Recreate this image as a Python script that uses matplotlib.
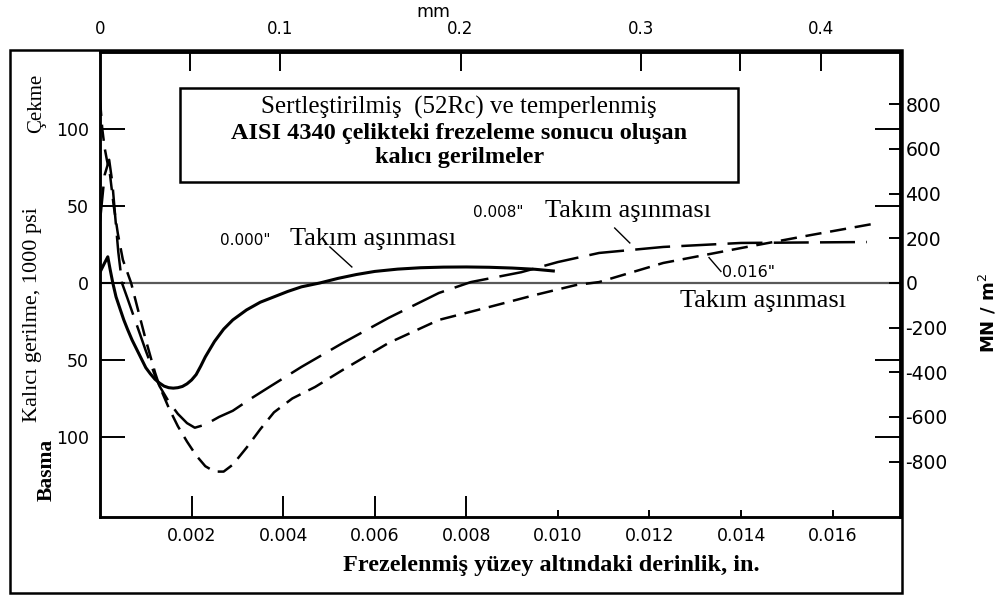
# --- IMPORT LIBRARIES ---
import matplotlib
matplotlib.use("Agg")
import matplotlib.pyplot as plt
from matplotlib.patches import Rectangle

# --- DATA (depth in inches, residual stress in 1000 psi) ---
depth_000 = [0, 0.00005, 0.0001, 0.00017, 0.00022, 0.00028, 0.00035, 0.00044, 0.00052, 0.0006,
             0.0007, 0.0008, 0.0009, 0.001, 0.0011, 0.0012, 0.0013, 0.0014, 0.0015, 0.0016,
             0.0017, 0.0018, 0.0019, 0.002, 0.0021, 0.0022, 0.0023, 0.0025, 0.0027, 0.0029,
             0.0032, 0.0035, 0.0038, 0.0041, 0.0044, 0.0048, 0.0052, 0.0056, 0.006, 0.0065,
             0.007, 0.0075, 0.008, 0.0085, 0.009, 0.0095, 0.0099]
stress_000 = [7, 10, 13, 17, 9, 0, -9, -17, -24, -30,
              -37, -43, -49, -55, -59, -62.5, -65, -67, -68, -68.3,
              -68, -67.2, -65.5, -63, -59.5, -54, -48, -38, -30, -24,
              -17.5, -12.5, -9, -5.5, -2.5, 0, 3, 5.5, 7.5, 9,
              9.9, 10.3, 10.4, 10.2, 9.7, 8.9, 7.8]

depth_008 = [0, 0.0001, 0.0002, 0.00027, 0.00033, 0.0004, 0.00048, 0.0006, 0.0008, 0.001,
             0.0012, 0.0013, 0.0015, 0.0017, 0.0019, 0.00207, 0.0023, 0.0026, 0.0029, 0.0033,
             0.0037, 0.0044, 0.0053, 0.0063, 0.0074, 0.0081, 0.0092, 0.01, 0.0109, 0.0123,
             0.014, 0.01675]
stress_008 = [40, 70, 80, 65, 44, 20, 0, -10, -27, -44,
              -60, -67, -77, -85, -91, -94, -92, -87, -83, -75,
              -67.5, -54.5, -39, -22.7, -6.5, 0.6, 7, 13.6, 19.5, 23.4,
              26, 26.6]

depth_016 = [0, 0.00005, 0.0001, 0.00015, 0.00022, 0.0003, 0.00039, 0.0005, 0.00068, 0.0008,
             0.001, 0.0012, 0.0013, 0.0015, 0.0017, 0.0019, 0.0021, 0.0023, 0.0025, 0.0027,
             0.0029, 0.0032, 0.0035, 0.0038, 0.0042, 0.0047, 0.0053, 0.0063, 0.0074, 0.0085,
             0.0095, 0.0104, 0.0109, 0.0123, 0.014, 0.0155, 0.017]
stress_016 = [119, 100, 88, 80, 70, 50, 32, 15, 0, -14,
              -37, -58, -67, -81, -93, -103, -112, -119, -122.5, -122.5,
              -118, -107, -95, -84, -75, -67.5, -56.5, -39, -24, -15.6,
              -7.8, -1.3, 0.6, 13, 22.7, 31, 39]

x_ticks_in = [0.002, 0.004, 0.006, 0.008, 0.010, 0.012, 0.014, 0.016]
x_ticklabels_in = ["0.002", "0.004", "0.006", "0.008", "0.010", "0.012", "0.014", "0.016"]
y_ticks_ksi = [100, 50, 0, -50, -100]
y_ticklabels_ksi = ["100", "50", "0", "50", "100"]
mpa_ticks = [800, 600, 400, 200, 0, -200, -400, -600, -800]
mm_ticks = [0, 0.1, 0.2, 0.3, 0.4]
mm_ticklabels = ["0", "0.1", "0.2", "0.3", "0.4"]
mm_minor = [0.05, 0.355]

KSI_TO_MPA = 6.895
SERIF = "Liberation Serif"

fig = plt.figure(figsize=(10.06, 6), dpi=100)
ax = fig.add_axes([0.0994, 0.1383, 0.7952, 0.775])
ax.set_xlim(0, 0.01747)
ax.set_ylim(-152, 150)

# --- CURVES ---
ax.axhline(0, color="0.35", lw=1.6, zorder=1)
ax.plot(depth_000, stress_000, color="black", lw=2.2, solid_joinstyle="round")
ax.plot(depth_008, stress_008, color="black", lw=1.8, dashes=(14, 4.5))
ax.plot(depth_016, stress_016, color="black", lw=1.8, dashes=(6.5, 3.5))

# --- AXES STYLE ---
for sp in ax.spines.values():
    sp.set_linewidth(1.8)
ax.set_xticks(x_ticks_in)
ax.set_xticklabels(x_ticklabels_in, fontsize=12.5)
ax.tick_params(axis="x", direction="in", length=15, width=1.4, pad=7, top=False)
for i, t in enumerate(ax.xaxis.get_major_ticks()):
    if i >= 4:
        t.tick1line.set_markersize(5)

ax.set_yticks(y_ticks_ksi)
ax.set_yticklabels(y_ticklabels_ksi, fontsize=12.5)
ax.tick_params(axis="y", direction="in", length=18, width=1.4, pad=8)

# right axis in MN/m2
ax2 = ax.twinx()
ax2.set_ylim(-152 * KSI_TO_MPA, 150 * KSI_TO_MPA)
ax2.set_yticks(mpa_ticks)
ax2.set_yticklabels([str(v) for v in mpa_ticks], fontsize=13.5)
ax2.tick_params(axis="y", direction="in", length=8, width=1.4, pad=4)
ax2.set_yticks([v * KSI_TO_MPA for v in [100, 50, -50, -100]], minor=True)
ax2.tick_params(axis="y", which="minor", direction="in", length=18, width=1.4)
for sp in ax2.spines.values():
    sp.set_linewidth(1.8)

# top axis in mm
top = ax.secondary_xaxis("top", functions=(lambda x: x * 25.4, lambda x: x / 25.4))
top.set_xticks(mm_ticks)
top.set_xticklabels(mm_ticklabels, fontsize=12)
top.set_xticks(mm_minor, minor=True)
top.tick_params(axis="x", which="both", direction="in", length=14, width=1.4, pad=10)
top.xaxis.get_major_ticks()[0].tick2line.set_visible(False)

# --- TITLE BOX ---
ax.add_patch(Rectangle((0.1, 0.7204), 0.6975, 0.2022, transform=ax.transAxes,
                       fill=False, lw=1.8, color="black"))
ax.text(0.449, 0.8817, "Sertleştirilmiş  (52Rc) ve temperlenmiş", transform=ax.transAxes,
        ha="center", va="center", family=SERIF, fontsize=18)
ax.text(0.449, 0.8258, "AISI 4340 çelikteki frezeleme sonucu oluşan", transform=ax.transAxes,
        ha="center", va="center", family=SERIF, fontsize=17.5, weight="bold")
ax.text(0.449, 0.7742, "kalıcı gerilmeler", transform=ax.transAxes,
        ha="center", va="center", family=SERIF, fontsize=17.5, weight="bold")

# --- CURVE LABELS ---
ax.text(0.00262, 27.9, '0.000"', fontsize=11, va="center")
ax.text(0.00415, 28.5, "Takım aşınması", family=SERIF, fontsize=19, va="center")
ax.plot([0.00502, 0.0055], [23.4, 10.4], color="black", lw=1)

ax.text(0.00814, 45.5, '0.008"', fontsize=11, va="center")
ax.text(0.00972, 46.5, "Takım aşınması", family=SERIF, fontsize=19, va="center")
ax.plot([0.01124, 0.01157], [35.7, 26], color="black", lw=1)

ax.text(0.01358, 6.8, '0.016"', fontsize=11.5, va="center")
ax.text(0.01266, -12, "Takım aşınması", family=SERIF, fontsize=19, va="center")
ax.plot([0.0133, 0.01356], [16.5, 7.5], color="black", lw=1)

# --- OUTER TEXT ---
fig.text(0.4304, 0.98, "mm", fontsize=12.5, ha="center", va="center")
fig.text(0.5477, 0.0583, "Frezelenmiş yüzey altındaki derinlik, in.", family=SERIF,
         fontsize=17.5, weight="bold", ha="center", va="center")
fig.text(0.0368, 0.8283, "Çekme", family=SERIF, fontsize=15, rotation=90, ha="center", va="center")
fig.text(0.0328, 0.475, "Kalıcı gerilme, 1000 psi", family=SERIF, fontsize=16, rotation=90,
         ha="center", va="center")
fig.text(0.0467, 0.2167, "Basma", family=SERIF, fontsize=15.5, weight="bold", rotation=90,
         ha="center", va="center")
fig.text(0.982, 0.478, "MN / m$^2$", fontsize=13, weight="bold", rotation=90,
         ha="center", va="center")

# outer frame
fig.add_artist(Rectangle((0.00994, 0.0117), 0.8866, 0.905, transform=fig.transFigure,
                         fill=False, lw=1.8, color="black"))

fig.savefig("out.png", dpi=100)
